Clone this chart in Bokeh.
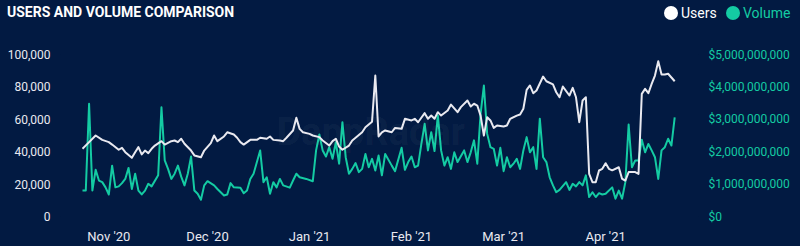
import pandas as pd
from bokeh.plotting import figure
from bokeh.layouts import column
from bokeh.models import (Range1d, LinearAxis, FixedTicker, NumeralTickFormatter,
                          DatetimeTickFormatter, Label, ColumnDataSource, Div)
from bokeh.embed import file_html
from bokeh.resources import INLINE

# ---------------- data ----------------
START = "2020-10-24"

users_day = [0, 2, 4, 6, 8, 9, 11, 12, 13, 15, 16, 17, 18, 19, 20, 21, 22, 24, 25, 27,
             28, 29, 30, 31, 33, 34, 36, 37, 39, 40, 41, 43, 44, 46, 47, 48, 49, 51, 53, 54,
             56, 57, 58, 60, 61, 62, 64, 65, 66, 67, 69, 70, 72, 73, 75, 76, 77, 78, 79, 81,
             82, 83, 85, 86, 87, 88, 89, 90, 91, 92, 94, 95, 97, 98, 100, 101, 102, 104, 105, 106,
             107, 108, 109, 111, 112, 114, 115, 117, 118, 119, 120, 121, 122, 123, 124, 125, 126, 128, 129, 130,
             132, 133, 134, 135, 136, 137, 138, 140, 141, 143, 144, 145, 146, 148, 149, 150, 151, 152, 153, 154,
             155, 156, 157, 158, 159, 160, 161, 163, 164, 165, 166, 168, 169, 170, 171, 172, 173, 174, 175, 176,
             177, 178, 180]
users_k = [41.8, 45.9, 50.0, 47.3, 45.9, 44.4, 41.2, 42.4, 39.7, 36.2, 39.7, 42.8, 38.3, 40.7, 39.1, 41.8, 43.8, 46.5, 44.4, 46.5,
           46.9, 45.9, 48.0, 44.9, 40.7, 37.7, 36.6, 40.7, 45.3, 50.0, 46.5, 49.4, 52.0, 50.6, 48.6, 45.9, 44.4, 47.3, 47.3, 48.6,
           48.0, 49.4, 47.3, 46.9, 46.5, 48.6, 53.1, 60.9, 54.1, 52.0, 51.0, 50.0, 49.0, 46.9, 43.8, 46.5, 48.0, 43.2, 41.2, 43.8,
           46.9, 48.6, 52.0, 55.1, 56.8, 58.5, 87.0, 49.4, 52.0, 53.1, 52.0, 54.7, 54.1, 60.3, 59.3, 60.3, 58.2, 63.8, 60.3, 62.3,
           60.3, 64.4, 62.3, 65.4, 69.1, 64.4, 67.5, 71.6, 67.9, 69.6, 68.5, 62.3, 50.0, 61.3, 59.3, 54.7, 56.2, 55.6, 56.2, 60.3,
           62.3, 63.0, 66.5, 78.2, 80.9, 76.1, 77.8, 86.4, 83.5, 81.5, 76.7, 73.6, 80.2, 74.7, 79.4, 73.6, 58.2, 71.6, 73.6, 26.3,
           21.2, 21.2, 28.4, 29.4, 32.9, 29.4, 28.5, 30.4, 23.3, 22.2, 27.4, 27.4, 26.3, 75.7, 78.8, 76.1, 81.9, 87.0, 95.9, 87.7,
           87.7, 88.1, 83.5]

volume_day = [0, 1, 2, 3, 4, 5, 6, 7, 8, 9, 10, 11, 12, 13, 14, 15, 16, 17, 18, 19,
              20, 21, 23, 24, 25, 26, 27, 28, 29, 30, 31, 32, 33, 34, 35, 36, 37, 38, 40, 41,
              43, 44, 45, 46, 48, 49, 50, 51, 52, 54, 55, 56, 57, 58, 59, 60, 61, 63, 64, 65,
              66, 68, 70, 71, 72, 73, 74, 75, 76, 77, 78, 79, 80, 81, 82, 83, 84, 85, 86, 87,
              88, 89, 90, 91, 92, 94, 95, 97, 98, 99, 100, 101, 102, 103, 104, 105, 106, 107, 108, 109,
              110, 111, 112, 113, 114, 116, 117, 118, 119, 120, 121, 122, 123, 124, 125, 126, 127, 128, 129, 130,
              131, 132, 133, 134, 135, 136, 137, 138, 139, 140, 141, 142, 143, 144, 145, 147, 148, 149, 150, 151,
              152, 153, 154, 155, 156, 157, 158, 159, 161, 162, 163, 164, 165, 166, 167, 168, 169, 170, 171, 172,
              173, 174, 175, 176, 177, 178, 179, 180]
volume_bn = [0.80, 0.80, 3.48, 0.80, 1.44, 1.11, 1.06, 0.90, 0.68, 1.57, 0.90, 0.93, 1.03, 1.16, 1.50, 0.85, 1.32, 0.80, 0.68, 0.80,
             1.01, 0.93, 1.27, 3.37, 1.73, 1.47, 1.16, 1.32, 1.57, 1.23, 0.96, 1.32, 1.85, 0.80, 0.70, 0.52, 0.96, 1.09, 0.96, 0.85,
             0.65, 0.68, 1.03, 0.90, 0.89, 0.72, 0.80, 1.16, 1.32, 2.04, 1.06, 1.21, 0.70, 1.06, 0.90, 1.16, 0.96, 0.89, 1.11, 1.32,
             1.21, 1.16, 1.09, 2.04, 2.53, 2.04, 1.85, 2.14, 1.78, 2.29, 1.63, 2.91, 1.83, 1.32, 1.47, 1.65, 1.37, 1.47, 1.93, 1.52,
             1.78, 1.42, 1.88, 1.27, 1.93, 1.57, 1.40, 2.12, 1.44, 1.68, 1.85, 1.52, 1.57, 2.24, 2.86, 2.04, 2.60, 2.02, 3.12, 2.04,
             1.57, 1.83, 1.47, 1.98, 1.68, 2.04, 1.68, 1.98, 2.35, 1.63, 3.17, 4.04, 2.55, 2.14, 2.09, 1.57, 2.12, 1.40, 1.83, 1.52,
             1.63, 1.78, 1.47, 2.04, 2.45, 1.98, 2.14, 1.47, 3.02, 1.83, 1.68, 1.21, 0.96, 0.75, 0.82, 1.06, 0.82, 1.01, 0.93, 1.06,
             0.96, 1.27, 0.60, 0.75, 0.60, 0.72, 0.68, 0.70, 0.90, 0.55, 0.80, 0.55, 1.06, 2.84, 1.52, 1.73, 1.73, 2.37, 1.98, 2.24,
             2.04, 1.83, 1.16, 2.04, 2.14, 2.40, 2.19, 3.06]

users_ticks = [0, 20000, 40000, 60000, 80000, 100000]
volume_ticks = [0, 1e9, 2e9, 3e9, 4e9, 5e9]
month_ticks = ["2020-11-01", "2020-12-01", "2021-01-01", "2021-02-01", "2021-03-01", "2021-04-01"]

TITLE = "USERS AND VOLUME COMPARISON"
SERIES = ["Users", "Volume"]

# ---------------- styling ----------------
BG = "#021a42"
WHITE = "#e9e9f0"
TEAL = "#14cba3"
FONT = "Roboto"

W, H = 800, 246
HEAD = 30                                    # header strip height (title + legend)
FL, FR, FT, FB = 60, 698, 54, 216            # frame edges in page pixels
PX_PER_DAY = 3.29
FIRST_PX = 82                                # pixel of first data day

# ---------------- header: title + legend ----------------
def legend_entry(cx, name, color):
    return (f'<span style="position:absolute;left:{cx - 7}px;top:6px;width:14px;height:14px;'
            f'border-radius:50%;background:{color};"></span>'
            f'<span style="position:absolute;left:{cx + 10}px;top:4px;line-height:18px;'
            f'font-size:14px;color:{color};">{name}</span>')

header_html = (
    f'<div style="position:relative;width:{W}px;height:{HEAD}px;background:{BG};'
    f'font-family:{FONT},sans-serif;overflow:hidden;">'
    f'<span style="position:absolute;left:7px;top:3px;line-height:18px;font-size:14px;'
    f'font-weight:bold;color:#ffffff;white-space:nowrap;">{TITLE}</span>'
    + legend_entry(671, SERIES[0], "#ffffff")
    + legend_entry(733, SERIES[1], TEAL)
    + '</div>'
)
hdr = Div(text=header_html, width=W, height=HEAD, margin=(0, 0, 0, 0),
          styles={"background-color": BG})

# ---------------- main chart ----------------
start = pd.Timestamp(START)
u_dates = [start + pd.Timedelta(days=d) for d in users_day]
v_dates = [start + pd.Timedelta(days=d) for d in volume_day]
users = [v * 1000 for v in users_k]
volume = [v * 1e9 for v in volume_bn]

x0 = start - pd.Timedelta(days=(FIRST_PX - FL) / PX_PER_DAY)
x1 = start + pd.Timedelta(days=(FR - FIRST_PX) / PX_PER_DAY)

p = figure(width=W, height=H - HEAD, x_axis_type="datetime", output_backend="svg",
           toolbar_location=None, x_range=Range1d(x0, x1),
           y_range=Range1d(users_ticks[0], users_ticks[-1]),
           min_border_left=FL, min_border_right=W - FR, min_border_top=FT - HEAD,
           min_border_bottom=H - FB, margin=(0, 0, 0, 0),
           styles={"background-color": BG})
p.background_fill_color = BG
p.border_fill_color = None          # navy page behind; avoids seams round the frame
p.outline_line_color = None
p.grid.visible = False

p.extra_y_ranges = {"vol": Range1d(volume_ticks[0], volume_ticks[-1])}

src_u = ColumnDataSource(dict(x=u_dates, y=users))
src_v = ColumnDataSource(dict(x=v_dates, y=volume))
p.line("x", "y", source=src_v, y_range_name="vol", line_color=TEAL, line_width=2,
       line_join="round")
p.line("x", "y", source=src_u, line_color=WHITE, line_width=2, line_join="round")

def style_axis(ax, color, size, standoff):
    ax.axis_line_color = None
    ax.major_tick_line_color = None
    ax.minor_tick_line_color = None
    ax.major_tick_out = 0
    ax.major_tick_in = 0
    ax.minor_tick_out = 0
    ax.minor_tick_in = 0
    ax.major_label_text_color = color
    ax.major_label_text_font = FONT
    ax.major_label_text_font_size = size
    ax.major_label_standoff = standoff

yl = p.yaxis[0]
yl.ticker = FixedTicker(ticks=users_ticks)
yl.formatter = NumeralTickFormatter(format="0,0")
style_axis(yl, WHITE, "12px", 10)

yr = LinearAxis(y_range_name="vol", ticker=FixedTicker(ticks=volume_ticks),
                formatter=NumeralTickFormatter(format="$0,0"))
style_axis(yr, TEAL, "12px", 10)
p.add_layout(yr, "right")

xa = p.xaxis[0]
xa.ticker = FixedTicker(ticks=[pd.Timestamp(m).value // 10**6 for m in month_ticks])
xa.formatter = DatetimeTickFormatter(days="%b '%y", months="%b '%y", years="%b '%y")
style_axis(xa, WHITE, "13px", 12)

# faint watermark inside the plot area (screen units from the frame's bottom-left)
p.add_layout(Label(x=276 - FL, y=FB - 131, x_units="screen", y_units="screen",
                   text="DappRadar", text_font=FONT, text_font_style="bold",
                   text_font_size="38px", text_color="#ffffff", text_alpha=0.05,
                   text_baseline="middle"))

layout = column(hdr, p, spacing=0, margin=(0, 0, 0, 0),
                styles={"background-color": BG})
html = file_html(layout, INLINE)
page_css = f"<style>html, body {{ margin: 0; background-color: {BG}; }}</style>"
if "</head>" in html:
    html = html.replace("</head>", page_css + "</head>", 1)
else:
    html = page_css + html
open("out.html", "w").write(html)
